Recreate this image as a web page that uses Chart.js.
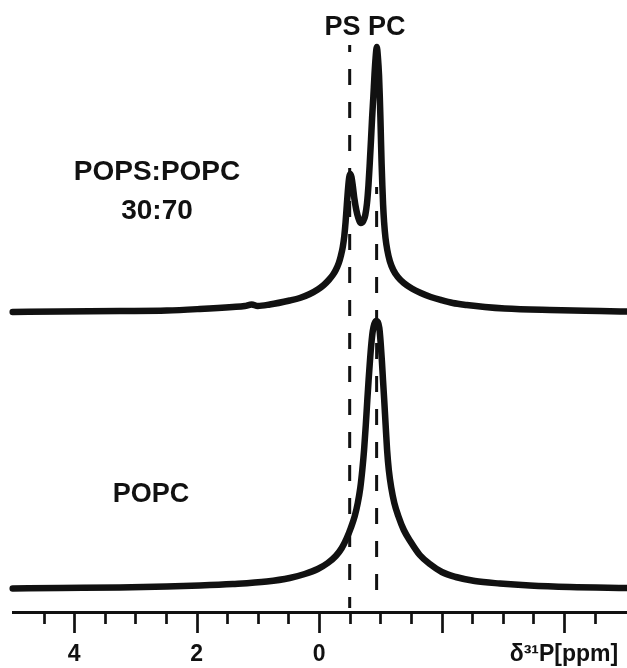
<!DOCTYPE html>
<html><head><meta charset="utf-8">
<script src="https://cdn.jsdelivr.net/npm/chart.js@4.4.0/dist/chart.umd.min.js"></script>
<style>html,body{margin:0;padding:0;background:#fff;}#wrap{width:627px;height:668px;position:relative;}</style>
</head><body><div id="wrap"><canvas id="c" width="627" height="668"></canvas></div>
<script>
// Chemical shift (ppm) and intensity (arbitrary units)
const mixPpm = [5.005,4.237,3.257,2.489,1.949,1.410,1.214,1.100,1.002,0.806,0.479,0.315,0.152,0.021,-0.077,-0.158,-0.224,-0.273,-0.322,-0.355,-0.387,-0.412,-0.433,-0.453,-0.474,-0.493,-0.510,-0.529,-0.551,-0.575,-0.608,-0.641,-0.681,-0.722,-0.755,-0.783,-0.807,-0.828,-0.848,-0.866,-0.886,-0.905,-0.923,-0.943,-0.962,-0.979,-0.992,-1.002,-1.011,-1.021,-1.033,-1.046,-1.062,-1.085,-1.114,-1.155,-1.212,-1.286,-1.384,-1.515,-1.662,-1.825,-1.989,-2.185,-2.413,-2.708,-3.034,-3.770,-4.587,-5.028];
const mixInt = [300,300.5,301,301.5,303,305,306,307.5,306,307.5,311.5,314,318,322.5,327,332,337,342,349,356,365,376,390,407,424,435,438,435,426,414,402,394,389,391,397,409,427,449,472,494,515,537,554,565,554,537,515,494,472,449,427,407,390,374,362,351,342,335,329,323.5,319,315,312,309,307,305,303.5,302,301,300.5];
const popcPpm = [5.005,4.237,3.257,2.489,1.949,1.410,0.854,0.479,0.234,0.021,-0.142,-0.273,-0.371,-0.453,-0.518,-0.583,-0.632,-0.673,-0.706,-0.735,-0.763,-0.788,-0.809,-0.832,-0.855,-0.877,-0.902,-0.935,-0.959,-0.984,-1.005,-1.025,-1.044,-1.064,-1.087,-1.111,-1.139,-1.180,-1.229,-1.294,-1.384,-1.498,-1.645,-1.809,-2.005,-2.234,-2.544,-2.953,-3.443,-4.096,-5.028];
const popcInt = [23.5,24,24.5,25.5,26.5,28,30.5,34,38,43,49,56,64,74,84,96,109,124,142,162,187,212,232,252,269,281,288,291,290,284,270,252,232,212,187,162,142,124,109,96,82,70,57,48,40,35,31,28.5,26.5,25,24];
const markerPpm = [-0.50, -0.94];
const markerTop = [567, 425];
const markerBottom = [4, 5];
const markerText = 'PS PC';
const sampleLabels = [['POPS:POPC', '30:70'], ['POPC']];
const tickLabels = {'4':'4', '2':'2', '0':'0', '-4':'δ³¹P[ppm]'};

const INK = '#111111';
const FONT = '"Liberation Sans", Arial, sans-serif';

function pts(xs, ys){ return xs.map((x,i)=>({x:x, y:ys[i]})); }

const datasets = [
  {data: pts(mixPpm, mixInt), borderColor: INK, borderWidth: 6.5, pointRadius: 0, cubicInterpolationMode: 'monotone', borderJoinStyle: 'round', borderCapStyle: 'round', clip: false},
  {data: pts(popcPpm, popcInt), borderColor: INK, borderWidth: 6.5, pointRadius: 0, cubicInterpolationMode: 'monotone', borderJoinStyle: 'round', borderCapStyle: 'round', clip: false}
];
markerPpm.forEach((m,i)=>{
  datasets.push({data: [{x:m, y:markerTop[i]}, {x:m, y:markerBottom[i]}], borderColor: INK, borderWidth: 3, borderDash: [16,17], borderDashOffset: 9, pointRadius: 0, clip: false});
});

const annot = {
  id: 'annot',
  afterDraw(chart){
    const ctx = chart.ctx, xs = chart.scales.x;
    ctx.save();
    ctx.strokeStyle = INK; ctx.lineWidth = 2.7; ctx.lineCap = 'butt';
    xs.ticks.forEach(t=>{
      const px = Math.round(xs.getPixelForValue(t.value)) + 0.5;
      const major = Math.abs(t.value/2 - Math.round(t.value/2)) < 1e-6;
      ctx.beginPath(); ctx.moveTo(px, xs.top); ctx.lineTo(px, xs.top + (major ? 21 : 12)); ctx.stroke();
    });
    ctx.fillStyle = INK; ctx.textAlign = 'center'; ctx.textBaseline = 'alphabetic';
    ctx.font = 'bold 27px ' + FONT;
    ctx.fillText(markerText, 365, 35);
    ctx.font = 'bold 28px ' + FONT;
    ctx.fillText(sampleLabels[0][0], 157, 180);
    ctx.fillText(sampleLabels[0][1], 157, 219);
    ctx.font = 'bold 27px ' + FONT;
    ctx.fillText(sampleLabels[1][0], 151, 502);
    ctx.restore();
  }
};

new Chart(document.getElementById('c'), {
  type: 'line',
  data: {datasets: datasets},
  options: {
    responsive: false, animation: false, devicePixelRatio: 1, events: [],
    layout: {padding: {left: 13, right: 0, top: 0, bottom: 0}},
    plugins: {legend: {display: false}, tooltip: {enabled: false}},
    scales: {
      x: {
        type: 'linear', reverse: true, min: -5.03, max: 5.0, position: 'bottom',
        border: {display: true, color: INK, width: 3},
        grid: {display: true, drawOnChartArea: false, drawTicks: false},
        ticks: {stepSize: 0.5, autoSkip: false, maxRotation: 0, minRotation: 0, padding: 29, color: INK,
          font: {family: FONT, size: 23, weight: 'bold'},
          callback: (v)=>{ const k = String(Math.round(v*100)/100); return tickLabels[k] !== undefined ? tickLabels[k] : ''; }},
        afterBuildTicks: (s)=>{ s.ticks = s.ticks.filter(t=>Math.abs(t.value) < 4.9); },
        afterFit: (s)=>{ s.height = 56; }
      },
      y: {type: 'linear', display: false, min: 0, max: 612}
    }
  },
  plugins: [annot]
});
</script></body></html>
